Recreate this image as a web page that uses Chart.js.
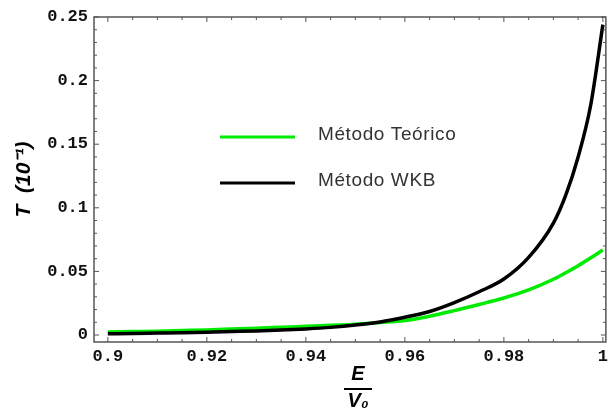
<!DOCTYPE html>
<html>
<head>
<meta charset="utf-8">
<script src="https://cdn.jsdelivr.net/npm/chart.js@4.4.1/dist/chart.umd.min.js"></script>
<style>
  html, body { margin: 0; padding: 0; background: #fff; }
  canvas { display: block; }
</style>
</head>
<body>
<canvas id="transChart" width="613" height="413"></canvas>
<script>
// E / V0 sample points
const energyRatio = [0.9, 0.905, 0.91, 0.915, 0.92, 0.925, 0.93, 0.935, 0.94, 0.945, 0.95,
  0.955, 0.96, 0.965, 0.97, 0.975, 0.98, 0.985, 0.99, 0.9925, 0.995, 0.9975, 1.0];

// transmission coefficient, units of 10^-1
const teorico = [0.0024, 0.0027, 0.0030, 0.0035, 0.0040, 0.0047, 0.0054, 0.0060, 0.0068, 0.0076, 0.0085,
  0.0098, 0.0114, 0.0148, 0.0192, 0.0240, 0.0291, 0.0354, 0.0438, 0.0490, 0.0545, 0.0605, 0.0668];
const wkb = [0.0010, 0.0012, 0.0015, 0.0018, 0.0022, 0.0027, 0.0032, 0.0039, 0.0048, 0.0060, 0.0078,
  0.0103, 0.0140, 0.0185, 0.0255, 0.0340, 0.0440, 0.0610, 0.0880, 0.1100, 0.1400, 0.1800, 0.2440];

const xTicks = [0.9, 0.92, 0.94, 0.96, 0.98, 1];
const xTickLabels = ["0.9", "0.92", "0.94", "0.96", "0.98", "1"];
const yTicks = [0, 0.05, 0.1, 0.15, 0.2, 0.25];
const yTickLabels = ["0", "0.05", "0.1", "0.15", "0.2", "0.25"];

const toPoints = (ys) => ys.map((v, i) => ({ x: energyRatio[i], y: v }));
const tickFont = { family: "Liberation Mono", size: 17, weight: "bold" };

// frame with inward major/minor ticks on all four sides
const framePlugin = {
  id: "frame",
  afterDatasetsDraw(chart) {
    const { ctx, chartArea: a, scales: { x, y } } = chart;
    ctx.save();
    ctx.strokeStyle = "#555";
    ctx.lineWidth = 1.5;
    ctx.strokeRect(a.left, a.top, a.right - a.left, a.bottom - a.top);
    ctx.lineWidth = 1;
    ctx.beginPath();
    for (let i = 0; i <= 20; i++) {
      const px = x.getPixelForValue(0.9 + i * 0.005);
      const len = i % 4 === 0 ? 5 : 3;
      ctx.moveTo(px, a.bottom); ctx.lineTo(px, a.bottom - len);
      ctx.moveTo(px, a.top); ctx.lineTo(px, a.top + len);
    }
    for (let i = 0; i <= 25; i++) {
      const py = y.getPixelForValue(i * 0.01);
      const len = i % 5 === 0 ? 5 : 3;
      ctx.moveTo(a.left, py); ctx.lineTo(a.left + len, py);
      ctx.moveTo(a.right, py); ctx.lineTo(a.right - len, py);
    }
    ctx.stroke();
    ctx.restore();
  }
};

// legend box inside the plot
const insideLegend = {
  id: "insideLegend",
  afterDraw(chart) {
    const { ctx } = chart;
    ctx.save();
    ctx.font = "19px 'Liberation Sans'";
    ctx.letterSpacing = "0.6px";
    ctx.textBaseline = "middle";
    chart.data.datasets.forEach((ds, i) => {
      const yy = 137 + i * 46;
      ctx.strokeStyle = ds.borderColor;
      ctx.lineWidth = 3;
      ctx.beginPath();
      ctx.moveTo(220, yy);
      ctx.lineTo(295, yy);
      ctx.stroke();
      ctx.fillStyle = "#333";
      ctx.fillText(ds.label, 318, yy - 2);
    });
    ctx.restore();
  }
};

// x axis label drawn as a fraction E / V0
const fractionTitle = {
  id: "fractionTitle",
  afterDraw(chart) {
    const { ctx } = chart;
    const cx = 358;
    ctx.save();
    ctx.fillStyle = "#000";
    ctx.font = "italic bold 20px 'Liberation Sans'";
    ctx.textAlign = "center";
    ctx.textBaseline = "middle";
    ctx.fillText("E", cx, 374);
    ctx.fillText("V₀", cx, 401);
    ctx.strokeStyle = "#000";
    ctx.lineWidth = 2;
    ctx.beginPath();
    ctx.moveTo(cx - 14, 389);
    ctx.lineTo(cx + 14, 389);
    ctx.stroke();
    ctx.restore();
  }
};

const transChart = new Chart(document.getElementById("transChart"), {
  type: "line",
  data: {
    datasets: [
      {
        label: "Método Teórico",
        data: toPoints(teorico),
        borderColor: "rgb(0, 235, 0)",
        borderWidth: 3.5,
        pointRadius: 0,
        cubicInterpolationMode: "monotone",
        order: 2,
      },
      {
        label: "Método WKB",
        data: toPoints(wkb),
        borderColor: "#000",
        borderWidth: 3.5,
        pointRadius: 0,
        cubicInterpolationMode: "monotone",
        order: 1,
      },
    ],
  },
  options: {
    responsive: false,
    animation: false,
    layout: { padding: { top: 17, right: 2, left: 0, bottom: 0 } },
    plugins: {
      legend: { display: false },
      tooltip: { enabled: false },
    },
    scales: {
      x: {
        type: "linear",
        min: 0.8972,
        max: 1.0006,
        grid: { display: false, drawTicks: false },
        border: { display: false },
        afterBuildTicks: (s) => { s.ticks = xTicks.map((v) => ({ value: v })); },
        afterFit: (s) => { s.height = 71; },
        ticks: {
          color: "#111",
          font: tickFont,
          padding: 5,
          maxRotation: 0,
          callback: (v) => xTickLabels[xTicks.indexOf(v)],
        },
      },
      y: {
        min: -0.0055,
        max: 0.25,
        grid: { display: false, drawTicks: false },
        border: { display: false },
        afterBuildTicks: (s) => { s.ticks = yTicks.map((v) => ({ value: v })); },
        afterFit: (s) => { s.width = 94; },
        ticks: {
          color: "#111",
          font: tickFont,
          padding: 6,
          callback: (v) => yTickLabels[yTicks.indexOf(v)],
        },
        title: {
          display: true,
          text: "T  (10⁻¹)",
          color: "#000",
          font: { family: "Liberation Sans", size: 21, weight: "bold", style: "italic" },
          padding: { top: 12, bottom: 0 },
        },
      },
    },
  },
  plugins: [framePlugin, insideLegend, fractionTitle],
});
</script>
</body>
</html>
